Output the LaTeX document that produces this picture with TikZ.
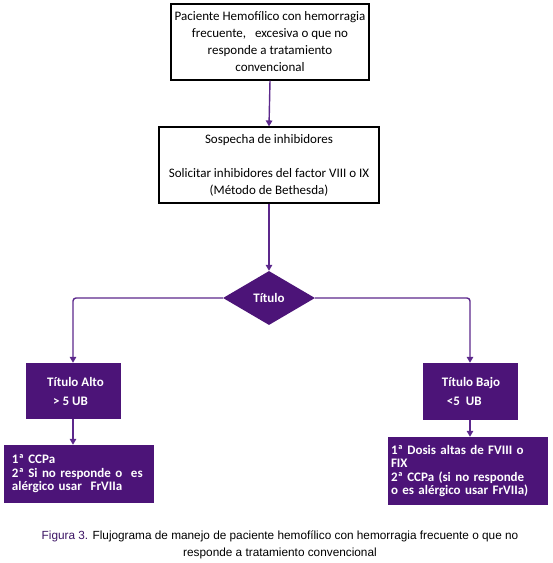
\documentclass[tikz,border=0pt]{standalone}
\usepackage{fontspec}
\setmainfont{Carlito}
\newfontfamily\capfont{Liberation Sans}
\usetikzlibrary{shapes.geometric,arrows.meta}
\definecolor{purp}{RGB}{76,20,120}
\definecolor{linep}{RGB}{92,40,140}
\definecolor{capp}{RGB}{60,20,100}
\tikzset{
  whitebox/.style={draw=black,line width=1.1pt,fill=white,inner sep=0pt,align=center,
    font=\fontsize{13}{17}\selectfont},
  purpbox/.style={fill=purp,text=white,inner sep=0pt,align=left,
    font=\bfseries\fontsize{13}{19}\selectfont},
  listbox/.style={fill=purp,text=white,inner ysep=0pt,align=left,
    font=\bfseries\fontsize{13}{13.5}\selectfont},
  conn/.style={draw=linep,line width=1.4pt,rounded corners=3pt,
    -{Triangle[length=6pt,width=6.5pt]}},
}
\begin{document}
\begin{tikzpicture}[x=1pt,y=-1pt]
\useasboundingbox (0,0) rectangle (553,563);
\node[whitebox,minimum width=198,minimum height=76] (top) at (270,42)
  {Paciente Hemofílico con hemorragia\\frecuente,\ \ \ excesiva o que no\\responde a tratamiento\\convencional};
\node[whitebox,minimum width=220,minimum height=76] (sosp) at (269,165)
  {Sospecha de inhibidores\\[17pt]Solicitar inhibidores del factor VIII o IX\\(Método de Bethesda)};
\node[diamond,fill=purp,text=white,inner sep=0pt,minimum width=92,minimum height=54,
  font=\bfseries\fontsize{13}{15}\selectfont] (tit) at (269,298) {Título};
\node[purpbox,minimum width=95,minimum height=56] (alto) at (73.5,391)
  {\hspace*{4pt}Título Alto\\\hspace*{10pt}> 5 UB};
\node[purpbox,minimum width=95,minimum height=57] (bajo) at (470,391.5)
  {\hspace*{2pt}Título Bajo\\\hspace*{7pt}<5\ \ UB};
\node[listbox,minimum width=150,minimum height=58,inner xsep=8pt,text width=134pt] (lb) at (79,474)
  {1ª CCPa\\2ª Si no responde o\ \ es\\alérgico usar\ \ FrVIIa};
\node[listbox,minimum width=160,minimum height=68,inner xsep=3pt,text width=154pt] (rb) at (468,471)
  {1ª Dosis altas de FVIII o\\FIX\\2ª CCPa (si no responde\\o es alérgico usar FrVIIa)};
\coordinate (lc) at (73,298);
\coordinate (rc) at (470,298);
\draw[conn] (top.south) -- (sosp.north);
\draw[conn] (sosp.south) -- (tit.north);
\draw[conn] (tit.west) -- (lc) -- (alto.north -| lc);
\draw[conn] (tit.east) -- (rc) -- (bajo.north);
\draw[conn] (alto.south -| lc) -- (lb.north -| lc);
\draw[conn] (bajo.south) -- (rb.north -| bajo.south);
\node[font=\capfont\fontsize{11.8}{17}\selectfont,align=center,inner sep=0pt] (cap) at (280,545)
  {{\color{capp}Figura 3.} Flujograma de manejo de paciente hemofílico con hemorragia frecuente o que no\\responde a tratamiento convencional};
\end{tikzpicture}
\end{document}
